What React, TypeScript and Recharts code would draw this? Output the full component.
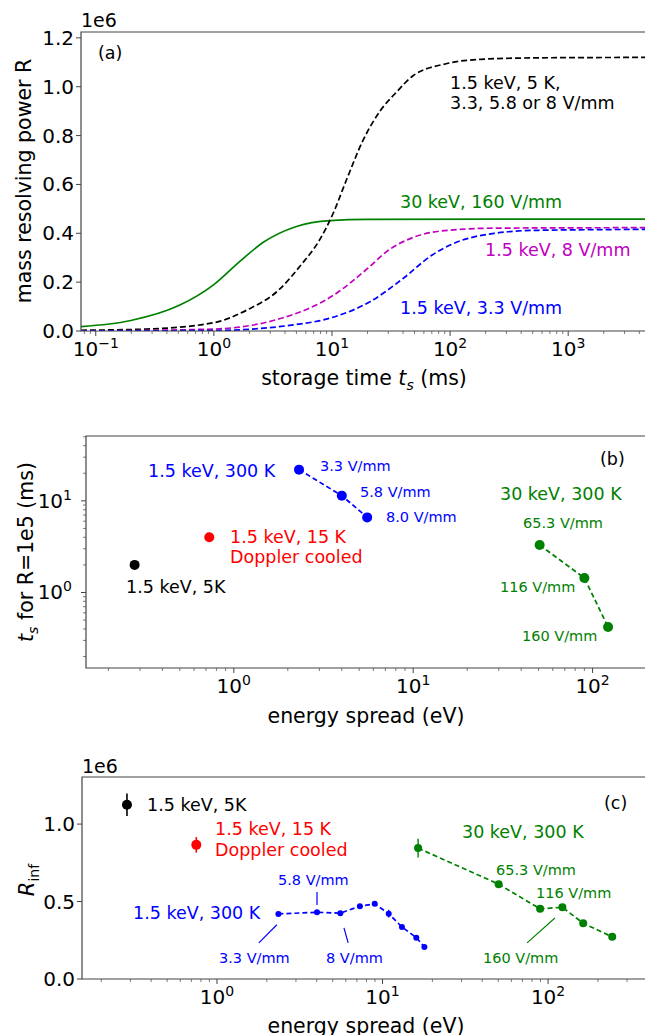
import React from 'react'
import { ComposedChart, Line, Scatter, XAxis, YAxis, ErrorBar, ReferenceLine } from 'recharts'

// panel (a): storage time (ms) vs R
const blackCurve = [
  { t: 0.075, R: 0.003 }, { t: 0.27, R: 0.008 }, { t: 1, R: 0.034 }, { t: 1.89, R: 0.085 },
  { t: 3.62, R: 0.172 }, { t: 5.35, R: 0.265 }, { t: 7.9, R: 0.375 }, { t: 10.2, R: 0.48 },
  { t: 13.3, R: 0.62 }, { t: 18.3, R: 0.78 }, { t: 25.5, R: 0.9 }, { t: 35.5, R: 0.98 },
  { t: 48.6, R: 1.045 }, { t: 94, R: 1.095 }, { t: 180, R: 1.112 }, { t: 500, R: 1.118 },
  { t: 4470, R: 1.12 },
]
const greenCurve = [
  { t: 0.075, R: 0.018 }, { t: 0.194, R: 0.042 }, { t: 0.51, R: 0.105 }, { t: 1, R: 0.19 },
  { t: 1.66, R: 0.285 }, { t: 2.6, R: 0.362 }, { t: 5, R: 0.428 }, { t: 9.6, R: 0.452 },
  { t: 20, R: 0.457 }, { t: 4470, R: 0.458 },
]
const magentaCurve = [
  { t: 0.075, R: 0.0 }, { t: 1, R: 0.008 }, { t: 3.6, R: 0.05 }, { t: 6.9, R: 0.1 },
  { t: 10.2, R: 0.145 }, { t: 15, R: 0.205 }, { t: 21, R: 0.265 }, { t: 29, R: 0.325 },
  { t: 48.6, R: 0.383 }, { t: 100, R: 0.413 }, { t: 236, R: 0.421 }, { t: 4470, R: 0.423 },
]
const blueCurve = [
  { t: 0.075, R: 0.0 }, { t: 1, R: 0.002 }, { t: 4.2, R: 0.022 }, { t: 10, R: 0.055 },
  { t: 21, R: 0.12 }, { t: 40, R: 0.215 }, { t: 70, R: 0.31 }, { t: 100, R: 0.352 },
  { t: 236, R: 0.4 }, { t: 520, R: 0.412 }, { t: 4470, R: 0.416 },
]

// panel (b): energy spread (eV) vs t_s for R=1e5 (ms)
const bBlack = [{ e: 0.28, ts: 2.0 }]
const bRed = [{ e: 0.73, ts: 4.0 }]
const bBlue = [{ e: 2.31, ts: 21.9 }, { e: 4.0, ts: 11.4 }, { e: 5.54, ts: 6.6 }]
const bGreen = [{ e: 50.7, ts: 3.3 }, { e: 90, ts: 1.44 }, { e: 122, ts: 0.42 }]

// panel (c): energy spread (eV) vs R_inf (1e6)
const cBlack = [{ e: 0.286, r: 1.125, err: 0.072 }]
const cRed = [{ e: 0.75, r: 0.866, err: 0.05 }]
const cBlue = [
  { e: 2.35, r: 0.42, err: 0 }, { e: 4.02, r: 0.431, err: 0 }, { e: 5.56, r: 0.425, err: 0 },
  { e: 7.3, r: 0.47, err: 0 }, { e: 8.97, r: 0.485, err: 0 }, { e: 10.9, r: 0.422, err: 0.025 },
  { e: 13.1, r: 0.336, err: 0 }, { e: 16.0, r: 0.267, err: 0 }, { e: 17.9, r: 0.207, err: 0 },
]
const cGreen = [
  { e: 16.4, r: 0.845, err: 0.06 }, { e: 50.3, r: 0.612, err: 0 }, { e: 89.5, r: 0.453, err: 0 },
  { e: 122, r: 0.463, err: 0.02 }, { e: 163, r: 0.36, err: 0 }, { e: 244, r: 0.272, err: 0 },
]
// leader lines in (c), data coords
const cLeaders = [
  { c: 'blue', x1: 1.79, y1: 0.233, x2: 2.3, y2: 0.35 },
  { c: 'blue', x1: 4.02, y1: 0.478, x2: 4.02, y2: 0.562 },
  { c: 'blue', x1: 5.85, y1: 0.33, x2: 6.2, y2: 0.233 },
  { c: 'green', x1: 74.7, y1: 0.233, x2: 110, y2: 0.394 },
]

const aTicksY = [0, 0.2, 0.4, 0.6, 0.8, 1.0, 1.2]
const cTicksY = [0, 0.5, 1.0]

function logTicks(lo: number, hi: number) {
  const out: number[] = []
  for (let d = -2; d <= 4; d++) {
    for (let m = 1; m < 10; m++) {
      const v = m * Math.pow(10, d)
      if (v >= lo && v <= hi) out.push(v)
    }
  }
  return out
}

const FONT = 'DejaVu Sans'
const FG = '#000'
const AX = '#444'
const TICK = 20

function isMajor(v: number) {
  const l = Math.log10(v)
  return Math.abs(l - Math.round(l)) < 1e-6
}

function LogXTick(props: any) {
  const { x, y, payload } = props
  const v = payload.value
  const major = isMajor(v)
  const exp = Math.round(Math.log10(v))
  return (
    <g>
      <line x1={x} x2={x} y1={y - 8} y2={y - 8 + (major ? 5 : 3)} stroke={AX} strokeWidth={major ? 1 : 0.7} />
      {major && (
        <text x={x} y={y + 17} textAnchor="middle" fontFamily={FONT} fontSize={TICK} fill={FG}>
          <tspan>10</tspan>
          <tspan dy={-8} fontSize={14}>{exp < 0 ? '\u2212' + -exp : exp}</tspan>
        </text>
      )}
    </g>
  )
}

function LogYTick(props: any) {
  const { x, y, payload } = props
  const v = payload.value
  const major = isMajor(v)
  const exp = Math.round(Math.log10(v))
  return (
    <g>
      <line x1={x + 8} x2={x + 8 - (major ? 5 : 3)} y1={y} y2={y} stroke={AX} strokeWidth={major ? 1 : 0.7} />
      {major && (
        <text x={x - 6} y={y + 7} textAnchor="end" fontFamily={FONT} fontSize={TICK} fill={FG}>
          <tspan>10</tspan>
          <tspan dy={-8} fontSize={14}>{exp}</tspan>
        </text>
      )}
    </g>
  )
}

function LinYTick(props: any) {
  const { x, y, payload } = props
  return (
    <g>
      <line x1={x + 8} x2={x + 3} y1={y} y2={y} stroke={AX} />
      <text x={x + 1} y={y + 7} textAnchor="end" fontFamily={FONT} fontSize={TICK} fill={FG}>
        {payload.value.toFixed(1)}
      </text>
    </g>
  )
}

type T = { x: number; y: number; s: string; c?: string; fs?: number }
const BIG = 17.5
const SM = 14.5
const texts: T[] = [
  { x: 98, y: 53, s: '(a)', fs: BIG },
  { x: 450, y: 83, s: '1.5 keV, 5 K,', fs: BIG },
  { x: 450, y: 103, s: '3.3, 5.8 or 8 V/mm', fs: BIG },
  { x: 400, y: 202, s: '30 keV, 160 V/mm', fs: BIG, c: 'green' },
  { x: 485, y: 250, s: '1.5 keV, 8 V/mm', fs: BIG, c: '#bf00bf' },
  { x: 400, y: 308, s: '1.5 keV, 3.3 V/mm', fs: BIG, c: 'blue' },
  { x: 600, y: 459, s: '(b)', fs: BIG },
  { x: 148, y: 471, s: '1.5 keV, 300 K', fs: BIG, c: 'blue' },
  { x: 320, y: 466, s: '3.3 V/mm', fs: SM, c: 'blue' },
  { x: 360, y: 492, s: '5.8 V/mm', fs: SM, c: 'blue' },
  { x: 386, y: 517, s: '8.0 V/mm', fs: SM, c: 'blue' },
  { x: 500, y: 494, s: '30 keV, 300 K', fs: BIG, c: 'green' },
  { x: 523, y: 523, s: '65.3 V/mm', fs: SM, c: 'green' },
  { x: 500, y: 587, s: '116 V/mm', fs: SM, c: 'green' },
  { x: 522, y: 636, s: '160 V/mm', fs: SM, c: 'green' },
  { x: 230, y: 537, s: '1.5 keV, 15 K', fs: BIG, c: 'red' },
  { x: 230, y: 557, s: 'Doppler cooled', fs: BIG, c: 'red' },
  { x: 126, y: 587, s: '1.5 keV, 5K', fs: BIG },
  { x: 604, y: 803, s: '(c)', fs: BIG },
  { x: 147, y: 805, s: '1.5 keV, 5K', fs: BIG },
  { x: 215, y: 829, s: '1.5 keV, 15 K', fs: BIG, c: 'red' },
  { x: 215, y: 850, s: 'Doppler cooled', fs: BIG, c: 'red' },
  { x: 133, y: 913, s: '1.5 keV, 300 K', fs: BIG, c: 'blue' },
  { x: 278, y: 880, s: '5.8 V/mm', fs: SM, c: 'blue' },
  { x: 219, y: 958, s: '3.3 V/mm', fs: SM, c: 'blue' },
  { x: 326, y: 958, s: '8 V/mm', fs: SM, c: 'blue' },
  { x: 462, y: 832, s: '30 keV, 300 K', fs: BIG, c: 'green' },
  { x: 496, y: 870, s: '65.3 V/mm', fs: SM, c: 'green' },
  { x: 536, y: 893, s: '116 V/mm', fs: SM, c: 'green' },
  { x: 483, y: 958, s: '160 V/mm', fs: SM, c: 'green' },
  { x: 81, y: 20, s: '1e6', fs: 19 },
  { x: 82, y: 766, s: '1e6', fs: 19 },
]

function Overlay() {
  const frames = [
    { l: 81, t: 32, b: 331 },
    { l: 86, t: 436, b: 668 },
    { l: 82, t: 777, b: 979 },
  ]
  const LAB = 20.5
  return (
    <svg width={645} height={1035} style={{ position: 'absolute', left: 0, top: 0, pointerEvents: 'none' }}>
      {frames.map((f, i) => (
        <path key={i} d={`M645,${f.t} H${f.l} V${f.b} H645`} fill="none" stroke={AX} strokeWidth={1.2} />
      ))}
      {texts.map((t, i) => (
        <text key={i} x={t.x} y={t.y + (t.fs ?? 15) * 0.36} fontFamily={FONT} fontSize={t.fs ?? 15}
          fill={t.c ?? FG}>{t.s}</text>
      ))}
      <text x={364} y={385} textAnchor="middle" fontFamily={FONT} fontSize={LAB}>
        storage time <tspan fontStyle="italic">t</tspan><tspan fontStyle="italic" fontSize={14} dy={5}>s</tspan><tspan dy={-5}> (ms)</tspan>
      </text>
      <text x={366} y={723} textAnchor="middle" fontFamily={FONT} fontSize={LAB}>energy spread (eV)</text>
      <text x={366} y={1033} textAnchor="middle" fontFamily={FONT} fontSize={LAB}>energy spread (eV)</text>
      <text transform="translate(31,181) rotate(-90)" textAnchor="middle" fontFamily={FONT} fontSize={LAB}>mass resolving power R</text>
      <text transform="translate(33,552) rotate(-90)" textAnchor="middle" fontFamily={FONT} fontSize={LAB}>
        <tspan fontStyle="italic">t</tspan><tspan fontStyle="italic" fontSize={14} dy={5}>s</tspan><tspan dy={-5}> for R=1e5 (ms)</tspan>
      </text>
      <text transform="translate(34,880) rotate(-90)" textAnchor="middle" fontFamily={FONT} fontSize={21}>
        <tspan fontStyle="italic">R</tspan><tspan fontSize={14} dy={5}>inf</tspan>
      </text>
    </svg>
  )
}

const xTicksA = logTicks(0.075, 4470)
const xTicksB = logTicks(0.15, 196)
const yTicksB = logTicks(0.15, 51)
const xTicksC = logTicks(0.153, 385)

export default function App() {
  return (
    <div style={{ position: 'absolute', left: 0, top: 0, width: 645, height: 1035, background: '#fff' }}>
      <div style={{ position: 'absolute', left: 0, top: 0 }}>
        <ComposedChart width={645} height={400} margin={{ top: 32, right: 0, bottom: 0, left: 0 }}>
          <XAxis dataKey="t" type="number" scale="log" domain={[0.075, 4470]} allowDataOverflow ticks={xTicksA}
            interval={0} tick={<LogXTick />} tickLine={false} axisLine={false} height={69} />
          <YAxis type="number" domain={[0, 1.2 * 1.02]} allowDataOverflow ticks={aTicksY} interval={0}
            tick={<LinYTick />} tickLine={false} axisLine={false} width={81} />
          <Line data={greenCurve} dataKey="R" stroke="green" strokeWidth={1.7} dot={false} type="monotone" isAnimationActive={false} />
          <Line data={blackCurve} dataKey="R" stroke="#000" strokeWidth={1.7} strokeDasharray="6 3" dot={false} type="monotone" isAnimationActive={false} />
          <Line data={magentaCurve} dataKey="R" stroke="#bf00bf" strokeWidth={1.7} strokeDasharray="6 3" dot={false} type="monotone" isAnimationActive={false} />
          <Line data={blueCurve} dataKey="R" stroke="blue" strokeWidth={1.7} strokeDasharray="6 3" dot={false} type="monotone" isAnimationActive={false} />
        </ComposedChart>
      </div>
      <div style={{ position: 'absolute', left: 0, top: 420 }}>
        <ComposedChart width={645} height={320} margin={{ top: 16, right: 0, bottom: 0, left: 0 }}>
          <XAxis dataKey="e" type="number" scale="log" domain={[0.15, 196]} allowDataOverflow ticks={xTicksB}
            interval={0} tick={<LogXTick />} tickLine={false} axisLine={false} height={72} />
          <YAxis dataKey="ts" type="number" scale="log" domain={[0.15, 51]} allowDataOverflow ticks={yTicksB}
            interval={0} tick={<LogYTick />} tickLine={false} axisLine={false} width={86} />
          <Scatter data={bBlack} dataKey="ts" shape={(p: any) => <circle cx={p.cx} cy={p.cy} r={5} fill="#000" />} isAnimationActive={false} />
          <Scatter data={bRed} dataKey="ts" shape={(p: any) => <circle cx={p.cx} cy={p.cy} r={5} fill="red" />} isAnimationActive={false} />
          <Line data={bBlue} dataKey="ts" stroke="blue" strokeWidth={1.7} strokeDasharray="5 3" dot={{ r: 5, fill: 'blue', stroke: 'none' }} isAnimationActive={false} />
          <Line data={bGreen} dataKey="ts" stroke="green" strokeWidth={1.7} strokeDasharray="5 3" dot={{ r: 5, fill: 'green', stroke: 'none' }} isAnimationActive={false} />
        </ComposedChart>
      </div>
      <div style={{ position: 'absolute', left: 0, top: 740 }}>
        <ComposedChart width={645} height={295} margin={{ top: 37, right: 0, bottom: 0, left: 0 }}>
          <XAxis dataKey="e" type="number" scale="log" domain={[0.153, 385]} allowDataOverflow ticks={xTicksC}
            interval={0} tick={<LogXTick />} tickLine={false} axisLine={false} height={56} />
          <YAxis dataKey="r" type="number" domain={[0, 1.304]} allowDataOverflow ticks={cTicksY} interval={0}
            tick={<LinYTick />} tickLine={false} axisLine={false} width={82} />
          {cLeaders.map((l, i) => (
            <ReferenceLine key={i} segment={[{ x: l.x1, y: l.y1 }, { x: l.x2, y: l.y2 }]} stroke={l.c} strokeWidth={1.2} ifOverflow="visible" />
          ))}
          <Scatter data={cBlack} dataKey="r" shape={(p: any) => <circle cx={p.cx} cy={p.cy} r={5} fill="#000" />} isAnimationActive={false}>
            <ErrorBar dataKey="err" direction="y" width={0} stroke="#000" strokeWidth={1.6} />
          </Scatter>
          <Scatter data={cRed} dataKey="r" shape={(p: any) => <circle cx={p.cx} cy={p.cy} r={5} fill="red" />} isAnimationActive={false}>
            <ErrorBar dataKey="err" direction="y" width={0} stroke="red" strokeWidth={1.6} />
          </Scatter>
          <Line data={cBlue} dataKey="r" stroke="blue" strokeWidth={1.7} strokeDasharray="5 3" dot={{ r: 3, fill: 'blue', stroke: 'none' }} isAnimationActive={false}>
            <ErrorBar dataKey="err" direction="y" width={0} stroke="blue" strokeWidth={1.4} />
          </Line>
          <Line data={cGreen} dataKey="r" stroke="green" strokeWidth={1.7} strokeDasharray="5 3" dot={{ r: 4, fill: 'green', stroke: 'none' }} isAnimationActive={false}>
            <ErrorBar dataKey="err" direction="y" width={0} stroke="green" strokeWidth={1.4} />
          </Line>
        </ComposedChart>
      </div>
      <Overlay />
    </div>
  )
}
